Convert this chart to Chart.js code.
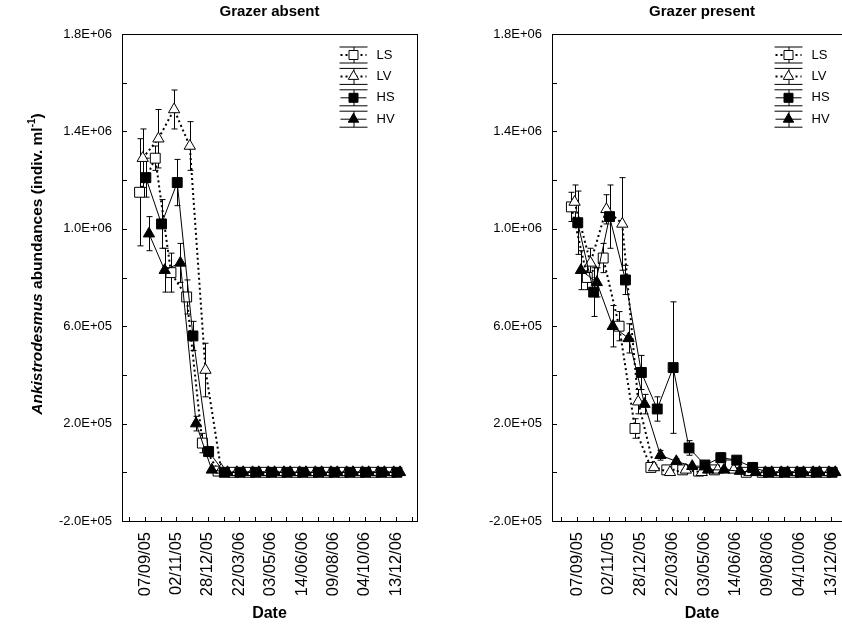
<!DOCTYPE html>
<html>
<head>
<meta charset="utf-8">
<script src="https://cdn.jsdelivr.net/npm/chart.js@4.4.1/dist/chart.umd.min.js"></script>
<style>
  html, body { margin: 0; padding: 0; background: #fff; overflow: hidden; }
  #wrap { position: relative; width: 842px; height: 629px; overflow: hidden; background: #fff; }
  #wrap canvas { position: absolute; top: 0; }
</style>
</head>
<body>
<div id="wrap">
  <canvas id="chartAbsent" width="425" height="629" style="left:0"></canvas>
  <canvas id="chartPresent" width="440" height="629" style="left:430px"></canvas>
</div>
<script>
// sampling dates (category index on the x axis); labels every other tick
const tickVals = [0, 1, 2, 3, 4, 5, 6, 7, 8, 9, 10, 11, 12, 13, 14, 15, 16, 17, 18];
const tickLabels = ['', '07/09/05', '', '02/11/05', '', '28/12/05', '', '22/03/06', '',
  '03/05/06', '', '14/06/06', '', '09/08/06', '', '04/10/06', '', '13/12/06', ''];
const sampleIdx = [1, 2, 3, 4, 5, 6, 7, 8, 9, 10, 11, 12, 13, 14, 15, 16, 17];

const yTickVals = [-200000, 0, 200000, 400000, 600000, 800000, 1000000, 1200000, 1400000, 1600000, 1800000];
const yLabelVals = [-200000, 200000, 600000, 1000000, 1400000, 1800000];

const seriesNames = ['LS', 'LV', 'HS', 'HV'];

// Grazer absent
const lsAbsent = [1150000, 1290000, 820000, 720000, 120000, 5000, 0, 0, 0, 0, 0, 0, 0, 0, 0, 0, 0];
const lvAbsent = [1290000, 1370000, 1490000, 1340000, 420000, 10000, 0, 0, 0, 0, 0, 0, 0, 0, 0, 0, 0];
const hsAbsent = [1210000, 1020000, 1190000, 560000, 85000, 0, 0, 0, 0, 0, 0, 0, 0, 0, 0, 0, 0];
const hvAbsent = [980000, 830000, 860000, 200000, 10000, 0, 0, 0, 0, 0, 0, 0, 0, 0, 0, 0, 0];
const lsAbsentErr = [220000, 50000, 80000, 70000, 40000, 0, 0, 0, 0, 0, 0, 0, 0, 0, 0, 0, 0];
const lvAbsentErr = [120000, 120000, 80000, 100000, 110000, 0, 0, 0, 0, 0, 0, 0, 0, 0, 0, 0, 0];
const hsAbsentErr = [80000, 100000, 95000, 60000, 20000, 0, 0, 0, 0, 0, 0, 0, 0, 0, 0, 0, 0];
const hvAbsentErr = [70000, 90000, 80000, 30000, 10000, 0, 0, 0, 0, 0, 0, 0, 0, 0, 0, 0, 0];

// Grazer present
const lsPresent = [1090000, 800000, 880000, 600000, 180000, 20000, 10000, 10000, 5000, 10000, 30000, 0, 0, 0, 0, 0, 0];
const lvPresent = [1110000, 860000, 1080000, 1020000, 290000, 20000, 0, 10000, 0, 10000, 10000, 0, 0, 0, 0, 0, 0];
const hsPresent = [1025000, 740000, 1050000, 790000, 410000, 260000, 430000, 100000, 30000, 60000, 50000, 20000, 0, 0, 0, 0, 0];
const hvPresent = [830000, 780000, 600000, 550000, 280000, 70000, 45000, 25000, 10000, 10000, 5000, 0, 0, 0, 0, 0, 0];
const lsPresentErr = [60000, 50000, 60000, 60000, 40000, 10000, 0, 0, 0, 0, 0, 0, 0, 0, 0, 0, 0];
const lvPresentErr = [70000, 60000, 60000, 190000, 50000, 10000, 0, 0, 0, 0, 0, 0, 0, 0, 0, 0, 0];
const hsPresentErr = [130000, 100000, 130000, 60000, 70000, 50000, 270000, 30000, 10000, 20000, 10000, 10000, 0, 0, 0, 0, 0];
const hvPresentErr = [80000, 60000, 85000, 60000, 40000, 20000, 10000, 0, 0, 0, 0, 0, 0, 0, 0, 0, 0];

// small horizontal shift per series so the markers don't sit on top of each other
const seriesShift = [-0.35, -0.15, 0.05, 0.25];

const FONT = '"Liberation Sans", Arial, sans-serif';
Chart.defaults.font.family = FONT;
Chart.defaults.color = '#000';

function sciLabel(v) {
  const s = v.toExponential(1).toUpperCase();
  return s.replace(/E([+-])(\d)$/, (m, sign, d) => 'E' + sign + '0' + d);
}

function styleFor(k) {
  const dotted = k < 2;
  const filled = k >= 2;
  const shape = (k % 2 === 0) ? 'rect' : 'triangle';
  return {
    borderColor: '#000',
    borderWidth: dotted ? 2 : 1,
    borderDash: dotted ? [2, 3] : [],
    pointStyle: shape,
    pointRadius: shape === 'rect' ? 7 : 6.5,
    pointBackgroundColor: filled ? '#000' : '#fff',
    pointBorderColor: '#000',
    pointBorderWidth: 1
  };
}

function buildDatasets(values, errors) {
  return values.map((vals, k) => Object.assign({
    label: seriesNames[k],
    data: sampleIdx.map((idx, j) => ({ x: idx + seriesShift[k], y: vals[j] })),
    errors: errors[k],
    order: 3 - k,
    tension: 0
  }, styleFor(k)));
}

function drawMarker(ctx, shape, filled, x, y, r) {
  ctx.beginPath();
  if (shape === 'rect') {
    ctx.rect(x - r, y - r, 2 * r, 2 * r);
  } else {
    ctx.moveTo(x, y - r);
    ctx.lineTo(x + r * 0.866, y + r / 2);
    ctx.lineTo(x - r * 0.866, y + r / 2);
    ctx.closePath();
  }
  ctx.fillStyle = filled ? '#000' : '#fff';
  ctx.fill();
  ctx.lineWidth = 1;
  ctx.strokeStyle = '#000';
  ctx.stroke();
}

function drawYTitle(ctx, cx, cy) {
  const parts = [
    { t: 'Ankistrodesmus', f: 'italic bold 15.5px ' + FONT, dy: 0 },
    { t: ' abundances (indiv. ml', f: 'bold 15.5px ' + FONT, dy: 0 },
    { t: '-1', f: 'bold 10px ' + FONT, dy: -6 },
    { t: ')', f: 'bold 15.5px ' + FONT, dy: 0 }
  ];
  let total = 0;
  parts.forEach(p => { ctx.font = p.f; p.w = ctx.measureText(p.t).width; total += p.w; });
  ctx.save();
  ctx.translate(cx, cy);
  ctx.rotate(-Math.PI / 2);
  ctx.fillStyle = '#000';
  ctx.textBaseline = 'middle';
  ctx.textAlign = 'left';
  let x = -total / 2;
  parts.forEach(p => { ctx.font = p.f; ctx.fillText(p.t, x, p.dy); x += p.w; });
  ctx.restore();
}

const panelDecor = {
  id: 'panelDecor',
  beforeDatasetsDraw(chart) {
    const ctx = chart.ctx;
    const yScale = chart.scales.y;
    ctx.save();
    ctx.strokeStyle = '#000';
    ctx.lineWidth = 1;
    chart.data.datasets.forEach((ds, k) => {
      const meta = chart.getDatasetMeta(k);
      meta.data.forEach((pt, j) => {
        const err = ds.errors[j];
        if (!err) return;
        const v = ds.data[j].y;
        const x = Math.round(pt.x) + 0.5;
        const yTop = yScale.getPixelForValue(v + err);
        const yBot = yScale.getPixelForValue(v - err);
        ctx.beginPath();
        ctx.moveTo(x, yTop); ctx.lineTo(x, yBot);
        ctx.moveTo(x - 3, yTop); ctx.lineTo(x + 3, yTop);
        ctx.moveTo(x - 3, yBot); ctx.lineTo(x + 3, yBot);
        ctx.stroke();
      });
    });
    ctx.restore();
  },
  afterDraw(chart, args, opts) {
    const ctx = chart.ctx;
    const a = chart.chartArea;
    const xs = chart.scales.x, ys = chart.scales.y;
    ctx.save();
    // frame
    ctx.strokeStyle = '#000';
    ctx.lineWidth = 1;
    ctx.strokeRect(a.left + 0.5, a.top + 0.5, a.right - a.left, a.bottom - a.top);
    // inward ticks
    ctx.beginPath();
    tickVals.forEach(v => {
      const x = Math.round(xs.getPixelForValue(v)) + 0.5;
      ctx.moveTo(x, a.bottom); ctx.lineTo(x, a.bottom - 4);
    });
    yTickVals.forEach(v => {
      const y = Math.round(ys.getPixelForValue(v)) + 0.5;
      ctx.moveTo(a.left, y); ctx.lineTo(a.left + 5, y);
    });
    ctx.stroke();

    // legend
    const cx = a.right - 63.5;
    chart.data.datasets.forEach((ds, k) => {
      const cy = a.top + 21 + k * 21.4;
      ctx.strokeStyle = '#000';
      ctx.lineWidth = 1;
      ctx.beginPath();
      ctx.moveTo(cx - 14, cy - 8); ctx.lineTo(cx + 14, cy - 8);
      ctx.moveTo(cx - 14, cy + 8); ctx.lineTo(cx + 14, cy + 8);
      ctx.moveTo(cx + 0.5, cy - 8); ctx.lineTo(cx + 0.5, cy + 8);
      ctx.stroke();
      ctx.beginPath();
      ctx.lineWidth = ds.borderWidth;
      ctx.setLineDash(ds.borderDash);
      ctx.moveTo(cx - 13, cy); ctx.lineTo(cx + 13, cy);
      ctx.stroke();
      ctx.setLineDash([]);
      drawMarker(ctx, ds.pointStyle, k >= 2, cx, cy, ds.pointStyle === 'rect' ? 4.5 : 6);
      ctx.fillStyle = '#000';
      ctx.font = '13px ' + FONT;
      ctx.textAlign = 'left';
      ctx.textBaseline = 'middle';
      ctx.fillText(ds.label, cx + 23, cy);
    });

    // titles
    const mid = (a.left + a.right) / 2;
    ctx.fillStyle = '#000';
    ctx.textAlign = 'center';
    ctx.textBaseline = 'middle';
    ctx.font = 'bold 15px ' + FONT;
    ctx.fillText(opts.title, mid, 12);
    ctx.font = 'bold 16px ' + FONT;
    ctx.fillText('Date', mid, 614);
    if (opts.yTitle) drawYTitle(ctx, 38, 264);
    ctx.restore();
  }
};

function makeChart(canvasId, title, datasets, xMin, xMax, padRight, yTitle) {
  return new Chart(document.getElementById(canvasId), {
    type: 'line',
    data: { datasets: datasets },
    plugins: [panelDecor],
    options: {
      responsive: false,
      animation: false,
      layout: { padding: { top: 34, right: padRight, left: 0, bottom: 0 } },
      plugins: {
        legend: { display: false },
        tooltip: { enabled: false },
        panelDecor: { title: title, yTitle: yTitle }
      },
      scales: {
        x: {
          type: 'linear',
          min: xMin,
          max: xMax,
          grid: { display: false, drawTicks: false },
          border: { display: false },
          afterBuildTicks: s => { s.ticks = tickVals.map(v => ({ value: v })); },
          afterFit: s => { s.height = 108; s.paddingLeft = 0; s.paddingRight = 0; },
          ticks: {
            autoSkip: false,
            minRotation: 90,
            maxRotation: 90,
            padding: 11,
            font: { size: 16.5 },
            callback: v => tickLabels[v] || ''
          }
        },
        y: {
          min: -200000,
          max: 1800000,
          grid: { display: false, drawTicks: false },
          border: { display: false },
          afterBuildTicks: s => { s.ticks = yTickVals.map(v => ({ value: v })); },
          afterFit: s => { s.width = 122; s.paddingTop = 0; s.paddingBottom = 0; },
          ticks: {
            padding: 10,
            font: { size: 13 },
            callback: v => yLabelVals.includes(v) ? sciLabel(v) : ''
          }
        }
      }
    }
  });
}

document.addEventListener('DOMContentLoaded', () => {
  makeChart('chartAbsent', 'Grazer absent',
    buildDatasets([lsAbsent, lvAbsent, hsAbsent, hvAbsent], [lsAbsentErr, lvAbsentErr, hsAbsentErr, hvAbsentErr]),
    -0.47, 18.33, 0, true);
  makeChart('chartPresent', 'Grazer present',
    buildDatasets([lsPresent, lvPresent, hsPresent, hvPresent], [lsPresentErr, lvPresentErr, hsPresentErr, hvPresentErr]),
    -0.57, 18.3, 18, false);
});
</script>
</body>
</html>
